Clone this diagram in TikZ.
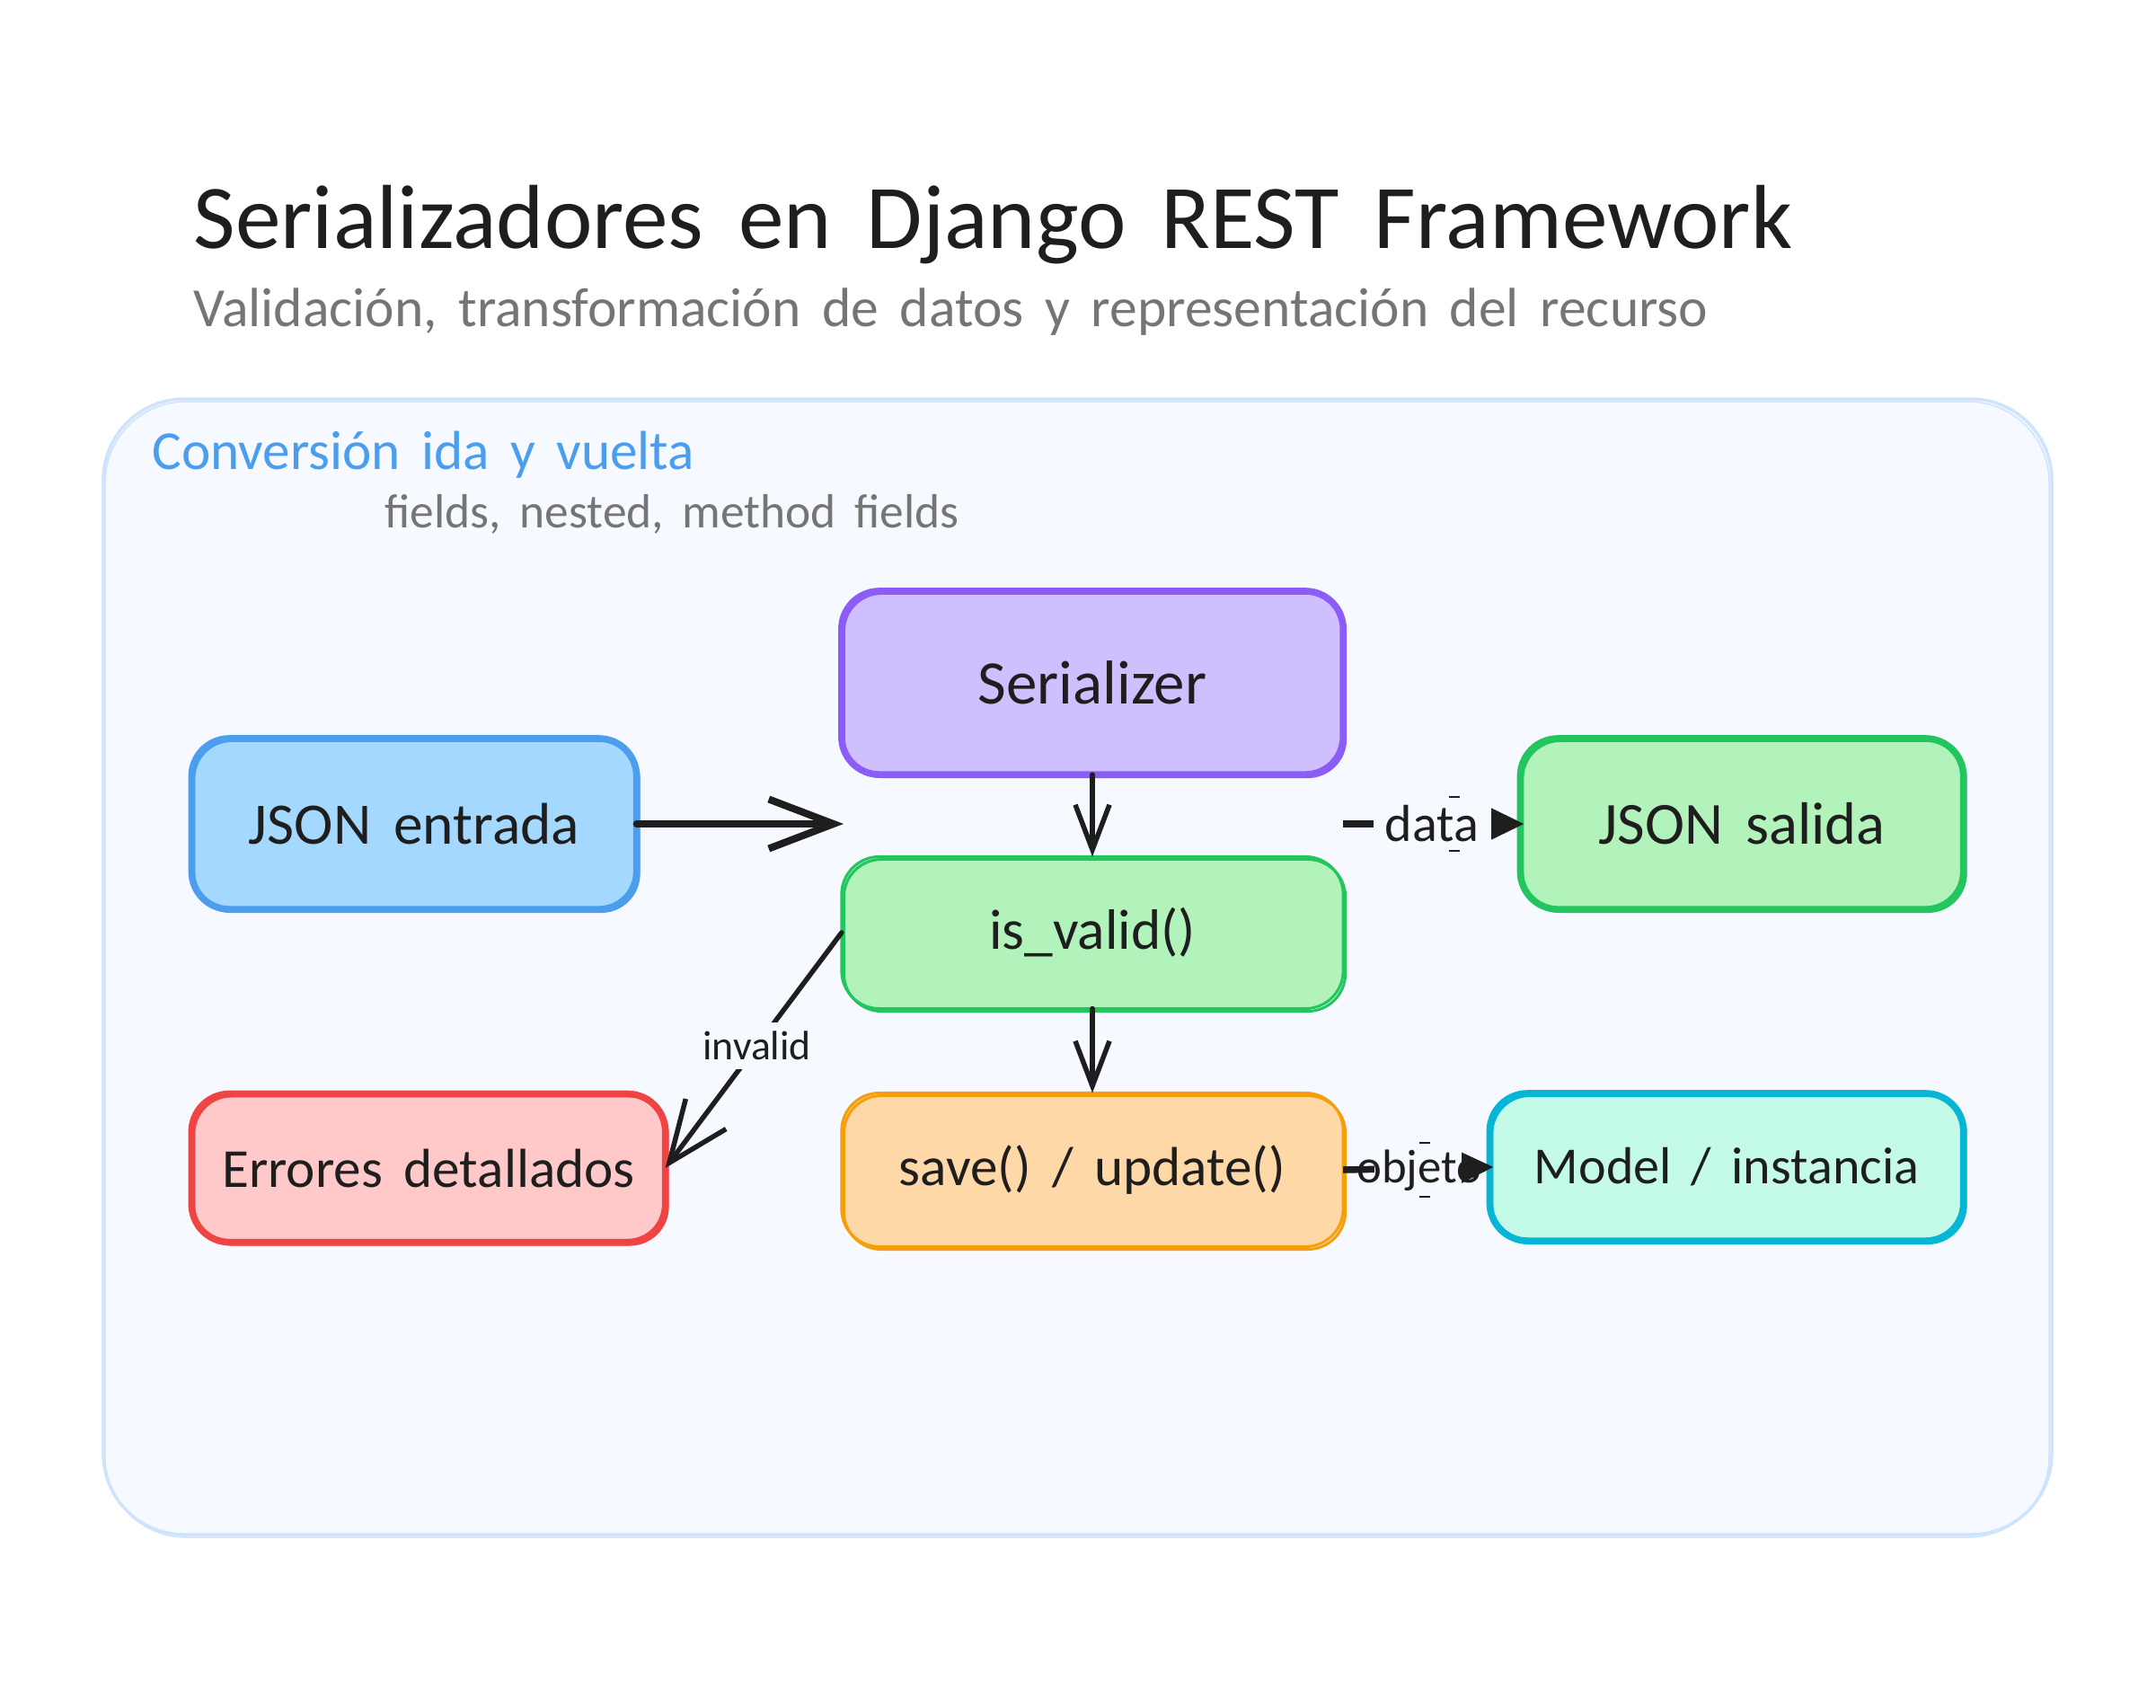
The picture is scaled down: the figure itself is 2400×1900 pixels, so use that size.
\documentclass[tikz,border=0pt]{standalone}
\usepackage{fontspec}
\usetikzlibrary{arrows.meta}
\setmainfont{Carlito}[WordSpace=1.7]
\definecolor{ink}{HTML}{1E1E1E}
\definecolor{graytext}{HTML}{757575}
\definecolor{panelfill}{HTML}{F6F9FF}
\definecolor{panelline}{HTML}{CFE3FB}
\definecolor{bluefill}{HTML}{A5D8FF}
\definecolor{blueline}{HTML}{4A9EED}
\definecolor{purplefill}{HTML}{D0BFFF}
\definecolor{purpleline}{HTML}{8B5CF6}
\definecolor{greenfill}{HTML}{B2F2BB}
\definecolor{greenline}{HTML}{22C55E}
\definecolor{orangefill}{HTML}{FFD8A8}
\definecolor{orangeline}{HTML}{F59E0B}
\definecolor{redfill}{HTML}{FFC9C9}
\definecolor{redline}{HTML}{EF4444}
\definecolor{tealfill}{HTML}{C3FAE8}
\definecolor{tealline}{HTML}{06B6D4}
\newcommand{\fs}[1]{\fontsize{#1}{#1}\selectfont}

\begin{document}
\begin{tikzpicture}[x=0.01cm, y=-0.01cm,
    box/.style={rounded corners=0.42cm, text=ink, inner sep=0pt, outer sep=0pt},
    heavy/.style={box, line width=0.075cm,
        postaction={draw, line width=0.03cm, transform canvas={xshift=0.025cm, yshift=-0.025cm}}},
    light/.style={box, line width=0.03cm,
        postaction={draw, transform canvas={xshift=0.025cm, yshift=-0.03cm}}},
    flow/.style={draw=ink, line width=0.055cm, line cap=round,
        -{Straight Barb[length=0.5cm, width=0.38cm, line width=0.055cm]}},
    solid head/.style={draw=ink, line width=0.075cm, shorten >=-0.04cm,
        -{Stealth[length=0.46cm, width=0.44cm, inset=0.07cm]}},
    tag/.style={text=ink, inner sep=0pt}]
    \useasboundingbox (0,0) rectangle (2400,1900);

    % Panel
    \draw[fill=panelfill, draw=panelline, line width=0.035cm, rounded corners=0.9cm]
        (115,444) rectangle (2284,1708);
    \draw[draw=panelline, line width=0.015cm, rounded corners=0.9cm]
        (117,447) rectangle (2281,1711);

    % Titles
    \node[anchor=base west, inner sep=0pt, text=ink, font=\fs{28.8}] (title) at (215,276)
        {Serializadores en Django REST Framework};
    \node[anchor=base west, inner sep=0pt, text=graytext, font=\fs{17.5}] (subtitle) at (215,363)
        {Validación, transformación de datos y representación del recurso};
    \node[anchor=base west, inner sep=0pt, text=blueline, font=\fs{17.4}] (paneltitle) at (169,522)
        {Conversión ida y vuelta};
    \node[anchor=base west, inner sep=0pt, text=graytext, font=\fs{15.2}] (panelnote) at (428,587)
        {fields, nested, method fields};

    % Boxes
    \node[heavy, draw=blueline, fill=bluefill, font=\fs{18.6}, minimum width=4.95cm, minimum height=1.9cm] (entrada) at (461,917) {JSON entrada};
    \node[heavy, draw=purpleline, fill=purplefill, font=\fs{19.6}, minimum width=5.58cm, minimum height=2.04cm] (serializer) at (1216,760) {Serializer};
    \node[light, draw=greenline, fill=greenfill, font=\fs{18}, minimum width=5.58cm, minimum height=1.69cm] (isvalid) at (1216,1038) {is\_valid()};
    \node[light, draw=orangeline, fill=orangefill, font=\fs{17.4}, minimum width=5.58cm, minimum height=1.71cm] (save) at (1216,1302) {save() / update()};
    \node[heavy, draw=greenline, fill=greenfill, font=\fs{18.9}, minimum width=4.93cm, minimum height=1.9cm] (salida) at (1939,917) {JSON salida};
    \node[heavy, draw=redline, fill=redfill, font=\fs{17.4}, minimum width=5.27cm, minimum height=1.65cm] (errores) at (477,1300) {Errores detallados};
    \node[heavy, draw=tealline, fill=tealfill, font=\fs{16.5}, minimum width=5.27cm, minimum height=1.64cm] (model) at (1922,1299) {Model / instancia};

    % Arrows
    \coordinate (entradaend) at (939,917);
    \draw[draw=ink, line width=0.08cm, line cap=round,
        -{Straight Barb[length=0.72cm, width=0.55cm, line width=0.08cm]}] (entrada.east) -- (entradaend);
    \draw[flow] (serializer.south) -- (isvalid.north);
    \draw[flow] (isvalid.south) -- (save.north);
    \draw[flow, -{Straight Barb[length=0.68cm, width=0.56cm, line width=0.055cm]}] (isvalid.west) --
        node[pos=0.48, tag, font=\fs{13}, fill=panelfill, inner xsep=0.03cm, inner ysep=0.1cm] (invalid) {invalid} (errores.east);

    % Labels on the right arrows
    \draw[solid head] (serializer.south east |- salida.west) -- (salida.west);
    \fill[panelfill] (1529,880) rectangle (1660,950);
    \node[tag, font=\fs{16.5}] (data) at (1594,917) {data};
    \draw[solid head] (save.east) -- (model.west);
    \fill[panelfill] (1530,1265) rectangle (1627,1340);
    \node[tag, font=\fs{15}] (objeto) at (1580,1303) {objeto};
    \foreach \x/\y in {1613/887, 1613/947, 1580/1272, 1580/1332} {
        \draw[ink, line width=0.012cm] (\x,\y) -- (\x+12,\y);
    }
\end{tikzpicture}
\end{document}
